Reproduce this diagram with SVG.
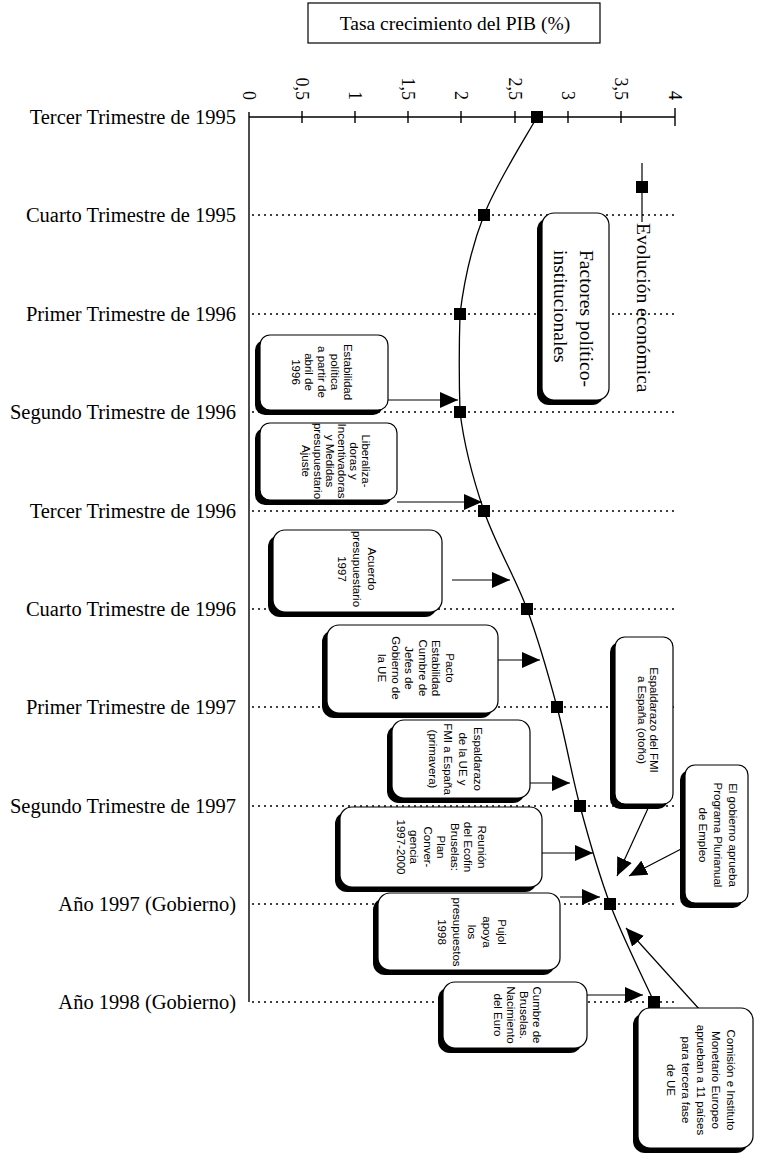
<svg xmlns="http://www.w3.org/2000/svg" width="757" height="1155" viewBox="0 0 757 1155">
<style>
.bg{fill:#fff}
.axis{stroke:#000;stroke-width:1.4;fill:none}
.dot{stroke:#000;stroke-width:1.3;stroke-dasharray:2 4;fill:none}
.curve{stroke:#000;stroke-width:1.3;fill:none}
.conn{stroke:#000;stroke-width:1.2;fill:none}
.mk{fill:#000}
.shadow{fill:#000}
.box{fill:#fff;stroke:#000;stroke-width:1.2}
.lbl{font-family:"Liberation Serif","Times New Roman",serif;font-size:20.5px;fill:#000}
.tick{font-family:"Liberation Serif","Times New Roman",serif;font-size:18px;fill:#000}
.big{font-family:"Liberation Serif","Times New Roman",serif;font-size:19.5px;fill:#000}
.bt{font-family:"Liberation Sans",Arial,sans-serif;font-size:11.5px;fill:#000;text-anchor:middle;dominant-baseline:central}
</style>
<defs>
<marker id="ah" markerUnits="userSpaceOnUse" markerWidth="19" markerHeight="16" refX="18" refY="8" orient="auto">
<path d="M0,0 L18,8 L0,16 z" fill="#000"/>
</marker>
</defs>
<rect class="bg" x="0" y="0" width="757" height="1155"/>

<g id="title">
<rect x="308" y="3" width="292" height="40" fill="#fff" stroke="#000" stroke-width="1.2"/>
<text class="big" x="455" y="30" text-anchor="middle" font-size="19px">Tasa crecimiento del PIB (%)</text>
</g>

<g id="axes">
<line class="axis" x1="249" y1="117" x2="675" y2="117"/>
<line class="axis" x1="249" y1="112" x2="249" y2="1002"/>
<path class="axis" d="M302,111 v12 M355,111 v12 M408,111 v12 M461,111 v12 M515,111 v12 M568,111 v12 M621,111 v12 M675,108 v18"/>
<g class="tick" text-anchor="end" dominant-baseline="central">
<text transform="translate(249,100) rotate(90)">0</text>
<text transform="translate(302,100) rotate(90)">0,5</text>
<text transform="translate(355,100) rotate(90)">1</text>
<text transform="translate(408,100) rotate(90)">1,5</text>
<text transform="translate(461,100) rotate(90)">2</text>
<text transform="translate(515,100) rotate(90)">2,5</text>
<text transform="translate(568,100) rotate(90)">3</text>
<text transform="translate(621,100) rotate(90)">3,5</text>
<text transform="translate(675,100) rotate(90)">4</text>
</g>
</g>

<g id="rows">
<path class="dot" d="M252,215 H675 M252,314 H675 M252,412 H675 M252,511 H675 M252,609 H675 M252,707 H675 M252,806 H675 M252,904 H675 M252,1002 H675"/>
<g class="lbl" text-anchor="end">
<text x="236" y="124">Tercer Trimestre de 1995</text>
<text x="236" y="222">Cuarto Trimestre de 1995</text>
<text x="236" y="321">Primer Trimestre de 1996</text>
<text x="236" y="419">Segundo Trimestre de 1996</text>
<text x="236" y="518">Tercer Trimestre de 1996</text>
<text x="236" y="616">Cuarto Trimestre de 1996</text>
<text x="236" y="714">Primer Trimestre de 1997</text>
<text x="236" y="813">Segundo Trimestre de 1997</text>
<text x="236" y="911">Año 1997 (Gobierno)</text>
<text x="236" y="1009">Año 1998 (Gobierno)</text>
</g>
</g>

<g id="series">
<path class="curve" d="M537,117 C528.2,133.3 496.8,182.2 484,215 C471.2,247.8 464,281.2 460,314 C459,346.8 459,379.2 460,412 C464,444.8 472.8,478.2 484,511 C495.2,543.8 514.8,576.3 527,609 C539.2,641.7 548.2,674.2 557,707 C565.8,739.8 571.2,773.2 580,806 C588.8,838.8 597.7,871.3 610,904 C622.3,936.7 646.7,985.7 654,1002"/>
<g class="mk">
<rect x="531" y="111" width="12" height="12"/>
<rect x="478" y="209" width="12" height="12"/>
<rect x="454" y="308" width="12" height="12"/>
<rect x="454" y="406" width="12" height="12"/>
<rect x="478" y="505" width="12" height="12"/>
<rect x="521" y="603" width="12" height="12"/>
<rect x="551" y="701" width="12" height="12"/>
<rect x="574" y="800" width="12" height="12"/>
<rect x="604" y="898" width="12" height="12"/>
<rect x="648" y="996" width="12" height="12"/>
</g>
</g>

<g id="legend">
<line class="conn" x1="642" y1="163" x2="642" y2="222"/>
<rect class="mk" x="636" y="181" width="12" height="12"/>
<text class="big" font-size="20px" dominant-baseline="central" transform="translate(643,223) rotate(90)">Evolución económica</text>
</g>

<g id="connectors">
<line class="conn" x1="388" y1="400" x2="458" y2="400" marker-end="url(#ah)"/>
<line class="conn" x1="397" y1="502" x2="482" y2="502" marker-end="url(#ah)"/>
<line class="conn" x1="452" y1="580" x2="510" y2="580" marker-end="url(#ah)"/>
<line class="conn" x1="498" y1="660" x2="540" y2="660" marker-end="url(#ah)"/>
<line class="conn" x1="530" y1="783" x2="570" y2="783" marker-end="url(#ah)"/>
<line class="conn" x1="542" y1="853" x2="593" y2="853" marker-end="url(#ah)"/>
<line class="conn" x1="560" y1="897" x2="600" y2="897" marker-end="url(#ah)"/>
<line class="conn" x1="587" y1="995" x2="643" y2="995" marker-end="url(#ah)"/>
<line class="conn" x1="650" y1="804" x2="617" y2="876" marker-end="url(#ah)"/>
<line class="conn" x1="685" y1="847" x2="629" y2="876" marker-end="url(#ah)"/>
<line class="conn" x1="700" y1="1010" x2="626" y2="928" marker-end="url(#ah)"/>
</g>

<g id="n-factores">
<rect class="shadow" x="537" y="218" width="67" height="187" rx="12"/>
<rect class="box" x="542" y="213" width="67" height="187" rx="12"/>
<text class="big" font-size="19px" dominant-baseline="central" transform="translate(574,250) rotate(90)"><tspan x="0" y="-13">Factores político-</tspan><tspan x="0" y="13">institucionales</tspan></text>
</g>

<g id="n-estabilidad">
<rect class="shadow" x="255" y="340" width="128" height="75" rx="10"/>
<rect class="box" x="260" y="335" width="128" height="75" rx="10"/>
<text class="bt" transform="translate(322,372) rotate(90)"><tspan x="0" y="-26">Estabilidad</tspan><tspan x="0" y="-13">política</tspan><tspan x="0" y="0">a partir de</tspan><tspan x="0" y="13">abril de</tspan><tspan x="0" y="26">1996</tspan></text>
</g>

<g id="n-liberalizadoras">
<rect class="shadow" x="255" y="428" width="137" height="77" rx="10"/>
<rect class="box" x="260" y="423" width="137" height="77" rx="10"/>
<text class="bt" transform="translate(336,461) rotate(90)"><tspan x="0" y="-30">Liberaliza-</tspan><tspan x="0" y="-18">doras y</tspan><tspan x="0" y="-6">Incentivadoras</tspan><tspan x="0" y="6">y Medidas</tspan><tspan x="0" y="18">presupuestario</tspan><tspan x="0" y="30">Ajuste</tspan></text>
</g>

<g id="n-acuerdo">
<rect class="shadow" x="268" y="535" width="169" height="82" rx="12"/>
<rect class="box" x="273" y="530" width="169" height="82" rx="12"/>
<text class="bt" transform="translate(357,569) rotate(90)"><tspan x="0" y="-15">Acuerdo</tspan><tspan x="0" y="0">presupuestario</tspan><tspan x="0" y="15">1997</tspan></text>
</g>

<g id="n-pacto">
<rect class="shadow" x="322" y="630" width="171" height="88" rx="12"/>
<rect class="box" x="327" y="625" width="171" height="88" rx="12"/>
<text class="bt" transform="translate(416,668) rotate(90)"><tspan x="0" y="-33.75">Pacto</tspan><tspan x="0" y="-20.25">Estabilidad</tspan><tspan x="0" y="-6.75">Cumbre de</tspan><tspan x="0" y="6.75">Jefes de</tspan><tspan x="0" y="20.25">Gobierno de</tspan><tspan x="0" y="33.75">la UE</tspan></text>
</g>

<g id="n-espaldarazo-ue">
<rect class="shadow" x="387" y="725" width="138" height="78" rx="12"/>
<rect class="box" x="392" y="720" width="138" height="78" rx="12"/>
<text class="bt" transform="translate(455,759) rotate(90)"><tspan x="0" y="-22.5">Espaldarazo</tspan><tspan x="0" y="-7.5">de la UE y</tspan><tspan x="0" y="7.5">FMI a España</tspan><tspan x="0" y="22.5">(primavera)</tspan></text>
</g>

<g id="n-reunion">
<rect class="shadow" x="335" y="812" width="202" height="80" rx="12"/>
<rect class="box" x="340" y="807" width="202" height="80" rx="12"/>
<text class="bt" transform="translate(441,847) rotate(90)"><tspan x="0" y="-40.5">Reunión</tspan><tspan x="0" y="-27">del Ecofin</tspan><tspan x="0" y="-13.5">Bruselas:</tspan><tspan x="0" y="0">Plan</tspan><tspan x="0" y="13.5">Conver-</tspan><tspan x="0" y="27">gencia</tspan><tspan x="0" y="40.5">1997-2000</tspan></text>
</g>

<g id="n-pujol">
<rect class="shadow" x="373" y="898" width="182" height="77" rx="12"/>
<rect class="box" x="378" y="893" width="182" height="77" rx="12"/>
<text class="bt" transform="translate(472,932) rotate(90)"><tspan x="0" y="-30">Pujol</tspan><tspan x="0" y="-15">apoya</tspan><tspan x="0" y="0">los</tspan><tspan x="0" y="15">presupuestos</tspan><tspan x="0" y="30">1998</tspan></text>
</g>

<g id="n-cumbre">
<rect class="shadow" x="438" y="987" width="144" height="66" rx="12"/>
<rect class="box" x="443" y="982" width="144" height="66" rx="12"/>
<text class="bt" transform="translate(517,1015) rotate(90)"><tspan x="0" y="-19.5">Cumbre de</tspan><tspan x="0" y="-6.5">Bruselas.</tspan><tspan x="0" y="6.5">Nacimiento</tspan><tspan x="0" y="19.5">del Euro</tspan></text>
</g>

<g id="n-fmi-otono">
<rect class="shadow" x="610" y="642" width="58" height="167" rx="10"/>
<rect class="box" x="615" y="637" width="58" height="167" rx="10"/>
<text class="bt" transform="translate(648,720) rotate(90)"><tspan x="0" y="-6">Espaldarazo del FMI</tspan><tspan x="0" y="6">a España (otoño)</tspan></text>
</g>

<g id="n-gobierno">
<rect class="shadow" x="680" y="770" width="63" height="138" rx="10"/>
<rect class="box" x="685" y="765" width="63" height="138" rx="10"/>
<text class="bt" transform="translate(718,835) rotate(90)"><tspan x="0" y="-15">El gobierno aprueba</tspan><tspan x="0" y="0">Programa Plurianual</tspan><tspan x="0" y="15">de Empleo</tspan></text>
</g>

<g id="n-comision">
<rect class="shadow" x="633" y="1013" width="115" height="140" rx="12"/>
<rect class="box" x="638" y="1008" width="115" height="140" rx="12"/>
<text class="bt" transform="translate(701,1080) rotate(90)"><tspan x="0" y="-30">Comisión e Instituto</tspan><tspan x="0" y="-15">Monetario Europeo</tspan><tspan x="0" y="0">aprueban a 11 países</tspan><tspan x="0" y="15">para tercera fase</tspan><tspan x="0" y="30">de UE</tspan></text>
</g>
</svg>
